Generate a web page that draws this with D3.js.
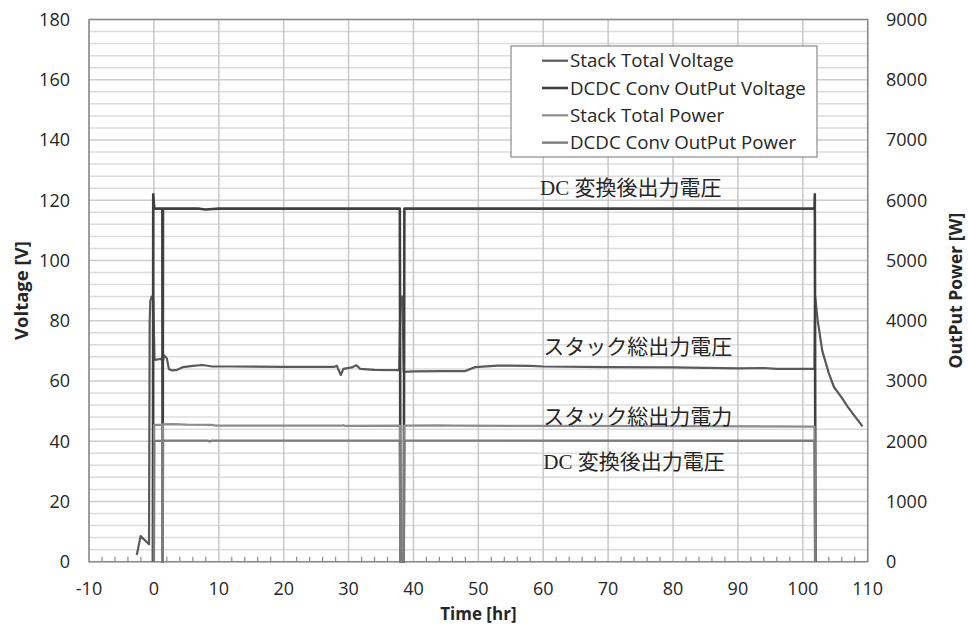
<!DOCTYPE html>
<html>
<head>
<meta charset="utf-8">
<script src="https://cdn.jsdelivr.net/npm/d3@7"></script>
<style>
  body { margin: 0; background: #fff; }
  svg text { font-family: "Open Sans", "Liberation Sans", sans-serif; fill: #262626; }
  .jp { font-family: "Liberation Serif", "Noto Sans CJK JP", serif; }
</style>
</head>
<body>
<svg id="chart" width="968" height="632"></svg>
<script>
// time [hr], value
var stackVoltage = [
  [-2.7, 2.3], [-2.6, 2.6], [-2.05, 8.5], [-0.75, 5.8], [-0.65, 80], [-0.55, 86.5], [-0.35, 88],
  [-0.1, 87], [0.1, 67], [1.0, 67.3], [1.4, 67.0], [1.6, 68.5], [2.0, 67.5], [2.3, 64], [2.8, 63.5],
  [3.6, 63.7], [4.5, 64.6], [6, 65], [7.5, 65.3], [9, 64.8], [12, 64.8], [20, 64.7], [27.8, 64.7],
  [28.2, 65], [28.8, 62], [29.2, 64], [30.5, 64.5], [31.2, 65.2], [31.8, 64], [34, 63.7], [37.8, 63.6],
  [38.0, 88], [38.3, 88], [38.5, 63], [40, 63.2], [45, 63.3], [48, 63.3], [49.5, 64.6], [53, 65.1],
  [58, 65], [60, 64.8], [70, 64.6], [80, 64.5], [90, 64.2], [94, 64.3], [96, 64.0], [101.8, 64.0],
  [101.9, 88], [102.3, 80], [103, 70], [104, 62.6], [104.8, 58], [106, 54.5], [106.9, 51.5],
  [108, 48.3], [109.2, 44.9]
];
var dcdcVoltage = [
  [-0.15, 0], [-0.1, 122], [0.05, 117.5], [0.2, 117.2], [1.3, 117.2], [1.35, 0],
  [1.4, 117.2], [7, 117.2], [8, 116.9], [9, 117.1], [10, 117.2], [37.9, 117.2], [38.0, 0],
  [38.5, 0], [38.6, 117.2], [101.8, 117.2], [101.85, 122], [101.95, 0]
];
var stackPower = [
  [0.0, 0], [0.05, 2270], [1.3, 2275], [1.35, 0], [1.4, 2280], [3.0, 2285], [5, 2275],
  [9, 2270], [9.5, 2258], [20, 2258], [29, 2258], [29.2, 2266], [29.4, 2255], [37.9, 2258],
  [38.0, 0], [38.5, 0], [38.6, 2258], [44, 2263], [46, 2258], [60, 2255], [80, 2250],
  [101.8, 2243], [101.9, 0]
];
var dcdcPower = [
  [0.0, 0], [0.05, 2005], [1.3, 2005], [1.35, 0], [1.4, 2010], [8.3, 2010],
  [8.6, 1995], [8.9, 2010], [37.9, 2010], [38.0, 0], [38.5, 0], [38.6, 2010], [101.8, 2008],
  [101.9, 0]
];

var xTicks = d3.range(-10, 111, 10);
var voltTicks = d3.range(0, 181, 20);
var powerTicks = d3.range(0, 9001, 1000);

var legendNames = ["Stack Total Voltage", "DCDC Conv OutPut Voltage", "Stack Total Power", "DCDC Conv OutPut Power"];
var notes = [
  { text: "DC 変換後出力電圧", t: 59.5, v: 124.2 },
  { text: "スタック総出力電圧", t: 60.0, v: 71.5 },
  { text: "スタック総出力電力", t: 60.0, v: 48.3 },
  { text: "DC 変換後出力電圧", t: 60.0, v: 33.2 }
];

var svg = d3.select("#chart"),
    pLeft = 89, pRight = 867.7, pTop = 19.5, pBottom = 561.7;

var x = d3.scaleLinear().domain([-10, 110]).range([pLeft, pRight]);
var yV = d3.scaleLinear().domain([0, 180]).range([pBottom, pTop]);
var yP = d3.scaleLinear().domain([0, 9000]).range([pBottom, pTop]);

// grid
var grid = svg.append("g");
grid.selectAll(".minor")
  .data(d3.range(0, 181, 4).filter(function(d){ return d % 20 != 0; }))
  .enter().append("line")
  .attr("x1", pLeft).attr("x2", pRight)
  .attr("y1", yV).attr("y2", yV)
  .attr("stroke", "#dcdcdc").attr("stroke-width", 1.5);
grid.selectAll(".major")
  .data(voltTicks)
  .enter().append("line")
  .attr("x1", pLeft).attr("x2", pRight)
  .attr("y1", yV).attr("y2", yV)
  .attr("stroke", "#cdcdcd").attr("stroke-width", 1.5);
grid.selectAll(".vert")
  .data(xTicks)
  .enter().append("line")
  .attr("x1", x).attr("x2", x)
  .attr("y1", pTop).attr("y2", pBottom)
  .attr("stroke", "#c8c8c8").attr("stroke-width", 1.5);

// x axis minor ticks (inside)
svg.append("g").selectAll("line")
  .data(d3.range(-10, 111, 2).filter(function(d){ return d % 10 != 0; }))
  .enter().append("line")
  .attr("x1", x).attr("x2", x)
  .attr("y1", pBottom).attr("y2", pBottom - 5)
  .attr("stroke", "#8c8c8c").attr("stroke-width", 1.2);

// plot border
svg.append("rect")
  .attr("x", pLeft).attr("y", pTop)
  .attr("width", pRight - pLeft).attr("height", pBottom - pTop)
  .attr("fill", "none").attr("stroke", "#8a8a8a").attr("stroke-width", 1.5);

// series
var lineV = d3.line().x(function(d){ return x(d[0]); }).y(function(d){ return yV(d[1]); });
var lineP = d3.line().x(function(d){ return x(d[0]); }).y(function(d){ return yP(d[1]); });

var styles = [
  { data: stackVoltage, line: lineV, color: "#5a5a5a", w: 2.2 },
  { data: dcdcVoltage, line: lineV, color: "#404040", w: 2.6 },
  { data: stackPower, line: lineP, color: "#8c8c8c", w: 2.2 },
  { data: dcdcPower, line: lineP, color: "#7c7c7c", w: 2.4 }
];

svg.append("g").selectAll("path")
  .data(styles)
  .enter().append("path")
  .attr("d", function(d){ return d.line(d.data); })
  .attr("fill", "none")
  .attr("stroke", function(d){ return d.color; })
  .attr("stroke-width", function(d){ return d.w; })
  .attr("stroke-linejoin", "round");

// tick labels
svg.append("g").selectAll("text")
  .data(voltTicks)
  .enter().append("text")
  .attr("x", 70).attr("y", yV)
  .attr("dy", "0.35em")
  .attr("text-anchor", "end")
  .style("font-size", "18px")
  .text(function(d){ return d; });

svg.append("g").selectAll("text")
  .data(powerTicks)
  .enter().append("text")
  .attr("x", 886).attr("y", yP)
  .attr("dy", "0.35em")
  .style("font-size", "18px")
  .text(function(d){ return d; });

svg.append("g").selectAll("text")
  .data(xTicks)
  .enter().append("text")
  .attr("x", x).attr("y", 589)
  .attr("dy", "0.35em")
  .attr("text-anchor", "middle")
  .style("font-size", "18px")
  .text(function(d){ return d; });

// axis titles
svg.append("text")
  .attr("x", (pLeft + pRight) / 2).attr("y", 614)
  .attr("dy", "0.35em")
  .attr("text-anchor", "middle")
  .style("font-size", "17px").style("font-weight", "bold")
  .text("Time [hr]");

svg.append("text")
  .attr("transform", "translate(22," + ((pTop + pBottom) / 2) + ") rotate(-90)")
  .attr("dy", "0.35em")
  .attr("text-anchor", "middle")
  .style("font-size", "18.5px").style("font-weight", "bold")
  .text("Voltage [V]");

svg.append("text")
  .attr("transform", "translate(956," + ((pTop + pBottom) / 2) + ") rotate(-90)")
  .attr("dy", "0.35em")
  .attr("text-anchor", "middle")
  .style("font-size", "17.5px").style("font-weight", "bold")
  .text("OutPut Power [W]");

// annotations
svg.append("g").selectAll("text")
  .data(notes)
  .enter().append("text")
  .attr("class", "jp")
  .attr("x", function(d){ return x(d.t); })
  .attr("y", function(d){ return yV(d.v); })
  .attr("dy", "0.35em")
  .style("font-size", "21px")
  .text(function(d){ return d.text; });

// legend
var legend = svg.append("g").attr("transform", "translate(511,46)");
legend.append("rect")
  .attr("width", 306).attr("height", 111)
  .attr("fill", "#fff").attr("stroke", "#8a8a8a").attr("stroke-width", 1.2);
var item = legend.selectAll(".item")
  .data(styles)
  .enter().append("g")
  .attr("transform", function(d, i){ return "translate(0," + (14.7 + i * 27.3) + ")"; });
item.append("line")
  .attr("x1", 31).attr("x2", 57)
  .attr("stroke", function(d){ return d.color; })
  .attr("stroke-width", function(d){ return d.w; });
item.append("text")
  .attr("x", 59)
  .attr("dy", "0.35em")
  .style("font-size", "18.7px")
  .text(function(d, i){ return legendNames[i]; });
</script>
</body>
</html>
